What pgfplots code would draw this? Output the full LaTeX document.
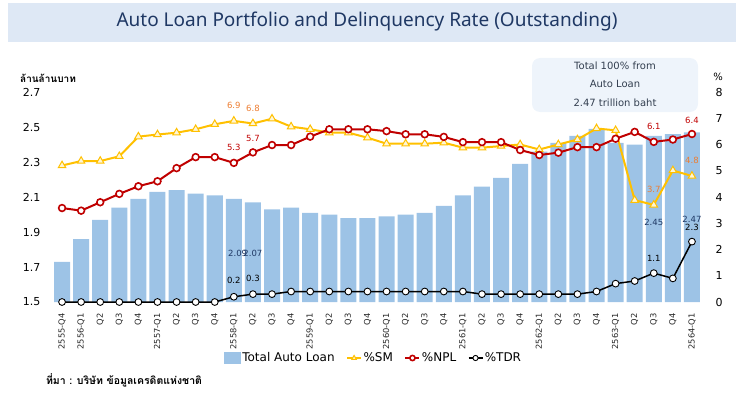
\documentclass[border=0pt]{standalone}
\usepackage{fontspec}
\setmainfont{DejaVu Sans}
\newfontfamily\thaifont[Script=Thai]{Loma}
\newfontfamily\titlefont{Noto Sans}
\usepackage{pgfplots}
\usepackage{pgfplotstable}
\pgfplotsset{compat=1.18}
\definecolor{barblue}{HTML}{9DC3E6}
\definecolor{smgold}{HTML}{FFC000}
\definecolor{smfill}{HTML}{FFF6D5}
\definecolor{nplred}{HTML}{C00000}
\definecolor{navy}{HTML}{1F3864}
\definecolor{orangelab}{HTML}{ED7D31}
\definecolor{banner}{HTML}{DEE8F5}
\definecolor{boxfill}{HTML}{EEF4FB}
\definecolor{boxtext}{HTML}{333F50}
\pgfplotsset{
  shortline legend/.style={legend image code/.code={\draw[mark repeat=2,mark phase=2,##1,mark size=2.6pt] plot coordinates {(0pt,0pt) (7pt,0pt) (14pt,0pt)};}},
  barsq legend/.style={legend image code/.code={\fill[barblue] (0pt,-5pt) rectangle (16pt,6pt);}},
}

\pgfplotstableread{
x loan sm npl tdr
0 1.73 5.20 3.58 0
1 1.86 5.37 3.48 0
2 1.97 5.37 3.80 0
3 2.04 5.55 4.12 0
4 2.09 6.30 4.41 0
5 2.13 6.38 4.60 0
6 2.14 6.45 5.10 0
7 2.12 6.58 5.52 0
8 2.11 6.77 5.52 0
9 2.09 6.90 5.30 0.2
10 2.07 6.80 5.70 0.3
11 2.03 6.98 5.98 0.3
12 2.04 6.68 5.98 0.4
13 2.01 6.58 6.30 0.4
14 2.00 6.45 6.58 0.4
15 1.98 6.45 6.58 0.4
16 1.98 6.26 6.58 0.4
17 1.99 6.03 6.51 0.4
18 2.00 6.03 6.39 0.4
19 2.01 6.03 6.39 0.4
20 2.05 6.07 6.29 0.4
21 2.11 5.88 6.09 0.4
22 2.16 5.88 6.09 0.3
23 2.21 5.94 6.09 0.3
24 2.29 6.00 5.79 0.3
25 2.36 5.81 5.60 0.3
26 2.41 6.00 5.69 0.3
27 2.45 6.19 5.90 0.3
28 2.49 6.61 5.90 0.4
29 2.41 6.54 6.22 0.7
30 2.40 3.88 6.48 0.8
31 2.45 3.70 6.10 1.1
32 2.46 5.01 6.19 0.9
33 2.47 4.80 6.40 2.3
}\data

\begin{document}
\begin{tikzpicture}
\useasboundingbox (0,0) rectangle (740pt,392pt);
% title banner
\fill[banner] (8pt,350pt) rectangle (736pt,389pt);
\node[text=navy, font=\titlefont\fontsize{19}{19}\selectfont] at (367pt,370pt) {Auto Loan Portfolio and Delinquency Rate (Outstanding)};
% annotation box
\fill[boxfill, rounded corners=8pt] (532pt,280pt) rectangle (698pt,334pt);
\node[text=boxtext, font=\fontsize{10}{10}\selectfont] at (615pt,326pt) {Total 100\% from};
\node[text=boxtext, font=\fontsize{10}{10}\selectfont] at (615pt,308pt) {Auto Loan};
\node[text=boxtext, font=\fontsize{10}{10}\selectfont] at (615pt,289pt) {2.47 trillion baht};
% axis unit labels
\node[font=\thaifont\bfseries\fontsize{10}{10}\selectfont] at (48pt,314pt) {ล้านล้านบาท};
\node[font=\fontsize{10}{10}\selectfont] at (718pt,315pt) {\%};
\node[font=\thaifont\bfseries\fontsize{10.5}{10.5}\selectfont] at (124pt,12pt) {ที่มา : บริษัท ข้อมูลเครดิตแห่งชาติ};

\begin{axis}[
  at={(52.5pt,90pt)}, anchor=south west,
  scale only axis, width=649pt, height=210pt,
  xmin=-0.5, xmax=33.5, ymin=1.5, ymax=2.7,
  axis line style={draw=none}, major tick length=0pt,
  axis y line*=left, axis x line*=bottom,
  ytick={1.5,1.7,1.9,2.1,2.3,2.5,2.7},
  yticklabels={1.5,1.7,1.9,2.1,2.3,2.5,2.7},
  yticklabel style={font=\fontsize{11}{11}\selectfont, anchor=east, inner sep=0pt, xshift=-12pt},
  xtick={0,...,33},
  xticklabels={2555-Q4,2556-Q1,Q2,Q3,Q4,2557-Q1,Q2,Q3,Q4,2558-Q1,Q2,Q3,Q4,2559-Q1,Q2,Q3,Q4,2560-Q1,Q2,Q3,Q4,2561-Q1,Q2,Q3,Q4,2562-Q1,Q2,Q3,Q4,2563-Q1,Q2,Q3,Q4,2564-Q1},
  xticklabel style={font=\fontsize{8.3}{8.3}\selectfont, rotate=90, anchor=east, inner sep=0pt, text=black!85},
  xticklabel shift=11pt,
]
\addplot[ybar, bar width=16pt, bar shift=0pt, fill=barblue, draw=none] table[x=x,y=loan]{\data};
\node[text=navy, font=\fontsize{8.5}{8.5}\selectfont] at (axis cs:9.2,1.78) {2.09};
\node[text=navy, font=\fontsize{8.5}{8.5}\selectfont] at (axis cs:10,1.78) {2.07};
\node[text=navy, font=\fontsize{8.5}{8.5}\selectfont] at (axis cs:31,1.957) {2.45};
\node[text=navy, font=\fontsize{8.5}{8.5}\selectfont] at (axis cs:33,1.974) {2.47};
\end{axis}

\begin{axis}[
  at={(52.5pt,90pt)}, anchor=south west,
  scale only axis, width=649pt, height=210pt,
  xmin=-0.5, xmax=33.5, ymin=0, ymax=8,
  axis line style={draw=none}, major tick length=0pt,
  axis y line*=right, hide x axis,
  ytick={0,1,2,3,4,5,6,7,8},
  yticklabels={0,1,2,3,4,5,6,7,8},
  yticklabel style={font=\fontsize{11}{11}\selectfont, anchor=west, inner sep=0pt, xshift=14pt},
  legend columns=4,
  legend style={at={(axis description cs:0.4946,-0.2667)}, anchor=center, draw=none, fill=none,
    font=\fontsize{12}{12}\selectfont, inner sep=0pt,
    /tikz/every even column/.append style={column sep=10pt},
    nodes={inner sep=1.5pt}},
]
\addlegendimage{barsq legend}
\addlegendentry{Total Auto Loan}
\addplot[smgold, line width=2pt, mark=triangle*, mark size=4.3pt, mark options={fill=smfill, draw=smgold, line width=1pt}, shortline legend]
  table[x=x,y=sm]{\data};
\addlegendentry{\%SM}
\addplot[nplred, line width=2pt, mark=*, mark size=3.4pt, mark options={fill=white, draw=nplred, line width=1.6pt}, shortline legend]
  table[x=x,y=npl]{\data};
\addlegendentry{\%NPL}
\addplot[black, line width=1.5pt, mark=*, mark size=3.4pt, mark options={fill=white, draw=black, line width=0.9pt}, shortline legend]
  table[x=x,y=tdr]{\data};
\addlegendentry{\%TDR}
% data labels
\node[text=orangelab, font=\fontsize{8.5}{8.5}\selectfont, yshift=15pt] at (axis cs:9,6.9) {6.9};
\node[text=orangelab, font=\fontsize{8.5}{8.5}\selectfont, yshift=15pt] at (axis cs:10,6.8) {6.8};
\node[text=orangelab, font=\fontsize{8.5}{8.5}\selectfont, yshift=15pt] at (axis cs:31,3.7) {3.7};
\node[text=orangelab, font=\fontsize{8.5}{8.5}\selectfont, yshift=16pt] at (axis cs:33,4.8) {4.8};
\node[text=nplred, font=\fontsize{8.5}{8.5}\selectfont, yshift=15pt] at (axis cs:9,5.3) {5.3};
\node[text=nplred, font=\fontsize{8.5}{8.5}\selectfont, yshift=14pt] at (axis cs:10,5.7) {5.7};
\node[text=nplred, font=\fontsize{8.5}{8.5}\selectfont, yshift=15pt] at (axis cs:31,6.1) {6.1};
\node[text=nplred, font=\fontsize{8.5}{8.5}\selectfont, yshift=14pt] at (axis cs:33,6.4) {6.4};
\node[text=black, font=\fontsize{8.5}{8.5}\selectfont, yshift=16pt] at (axis cs:9,0.2) {0.2};
\node[text=black, font=\fontsize{8.5}{8.5}\selectfont, yshift=16pt] at (axis cs:10,0.3) {0.3};
\node[text=black, font=\fontsize{8.5}{8.5}\selectfont, yshift=15pt] at (axis cs:31,1.1) {1.1};
\node[text=black, font=\fontsize{8.5}{8.5}\selectfont, yshift=14pt] at (axis cs:33,2.3) {2.3};
\end{axis}
\end{tikzpicture}
\end{document}
